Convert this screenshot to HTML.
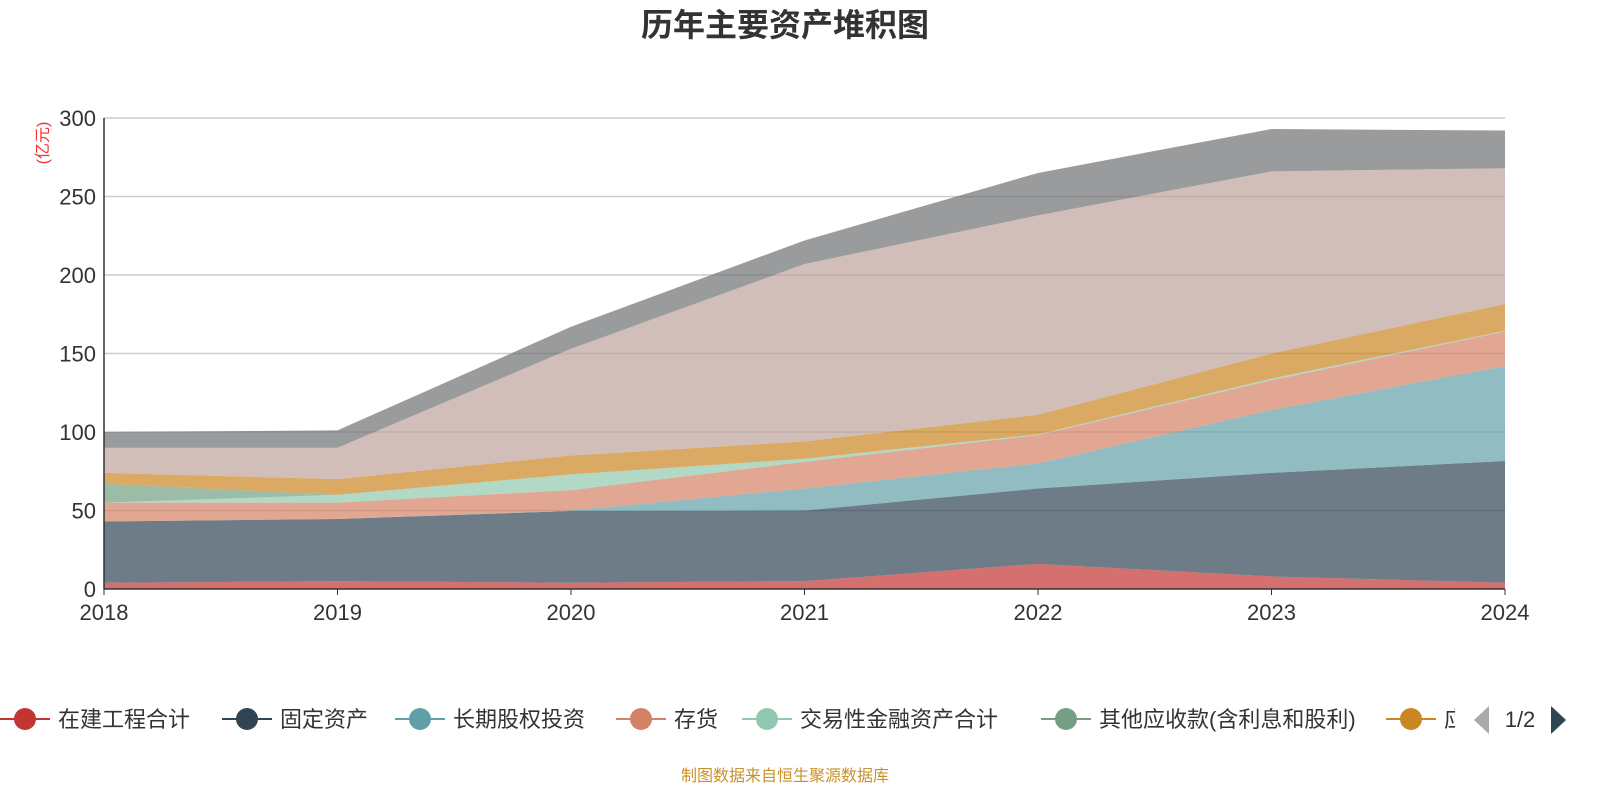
<!DOCTYPE html>
<html><head><meta charset="utf-8"><style>
body{margin:0;background:#fff;width:1600px;height:800px;overflow:hidden}
svg text{font-family:"Liberation Sans","Noto Sans CJK SC",sans-serif}
</style></head><body>
<svg id="c" width="1600" height="800" xmlns="http://www.w3.org/2000/svg">
<text x="785" y="36" text-anchor="middle" font-size="32" font-weight="bold" fill="#333">历年主要资产堆积图</text>
<text transform="translate(48,143) rotate(-90)" text-anchor="middle" font-size="16" fill="#e33">(亿元)</text>
<g id="grid"></g><g id="areas"></g><g id="axes"></g><g id="legend"></g>
<text x="785" y="781" text-anchor="middle" font-size="16" fill="#c8912a">制图数据来自恒生聚源数据库</text>
</svg>
<script>
const years=["2018","2019","2020","2021","2022","2023","2024"];
const yTicks=[0,50,100,150,200,250,300];
const names=["在建工程合计","固定资产","长期股权投资","存货","交易性金融资产合计","其他应收款(含利息和股利)","应收账款","货币资金","其他"];
const colors=["#c23531","#2f4554","#61a0a8","#d48265","#91c7ae","#749f83","#ca8622","#bda29a","#6e7074"];
const s0=[4,5,4,5,16,8,4];
const s1=[39,39.6,45.7,45,48,66,77.5];
const s2=[0,0,0.3,14,16,40,60.5];
const s3=[12,10.4,13,17,18,19,22];
const s4=[0,5,10,2,0.5,1,0.5];
const s5=[12,0,0,0,0,0,0];
const s6=[7,10,12,11,12.5,16,17];
const s7=[16,20,68,113,127,116,86.5];
const s8=[10,11,14,15,27,27,24];
const series=[s0,s1,s2,s3,s4,s5,s6,s7,s8];
const NS="http://www.w3.org/2000/svg";
const X0=104,X1=1505,Y0=589,Y1=118;
const xs=i=>X0+(X1-X0)*i/(years.length-1);
const ys=v=>Y0-(Y0-Y1)*v/300;
function mk(t,a,p){const e=document.createElementNS(NS,t);for(const k in a)e.setAttribute(k,a[k]);p.appendChild(e);return e;}
const grid=document.getElementById('grid'),areas=document.getElementById('areas'),axes=document.getElementById('axes'),leg=document.getElementById('legend');
yTicks.forEach(v=>{
 if(v>0){const l=mk('line',{x1:X0,x2:X1,y1:ys(v),y2:ys(v),stroke:'#ccc','stroke-width':1.5},grid);
 
 }
 const t=mk('text',{x:X0-8,y:ys(v)+8,'text-anchor':'end','font-size':22,fill:'#333'},axes);t.textContent=v;
 
 
});
let base=years.map(()=>0);
series.forEach((s,k)=>{
 const top=base.map((b,i)=>b+s[i]);
 let d='M'+years.map((_,i)=>xs(i)+','+ys(top[i])).join('L');
 for(let i=years.length-1;i>=0;i--)d+='L'+xs(i)+','+ys(base[i]);
 d+='Z';
 const p=mk('path',{d:d,fill:colors[k],'fill-opacity':0.7,stroke:'none'},areas);
 
 
 base=top;
});
const ax=mk('line',{x1:X0,x2:X1,y1:Y0,y2:Y0,stroke:'#333','stroke-width':1.5},axes);


const ay=mk('line',{x1:X0,x2:X0,y1:Y1,y2:Y0,stroke:'#333','stroke-width':1.5},axes);


years.forEach((y,i)=>{
 const tk=mk('line',{x1:xs(i),x2:xs(i),y1:Y0,y2:Y0+6,stroke:'#333'},axes);
 
 
 const t=mk('text',{x:xs(i),y:620,'text-anchor':'middle','font-size':22,fill:'#333'},axes);t.textContent=y;
 
 
});
const lx=[0,222,395,616,742,1041,1386];
const cp=mk('clipPath',{id:'lc'},leg);mk('rect',{x:0,y:690,width:1455,height:60},cp);
const lg=mk('g',{'clip-path':'url(#lc)'},leg);
lx.forEach((x,k)=>{
 const g=mk('g',{},lg);
 
 
 mk('line',{x1:x,x2:x+50,y1:719,y2:719,stroke:colors[k],'stroke-width':2},g);
 mk('circle',{cx:x+25,cy:719,r:11,fill:colors[k]},g);
 const t=mk('text',{x:x+58,y:727,'font-size':22,fill:'#333'},g);t.textContent=names[k];
});
const pl=mk('path',{d:'M1489,706L1489,734L1474,720Z',fill:'#aaa'},leg);


const pt=mk('text',{x:1520,y:727,'text-anchor':'middle','font-size':22,fill:'#333'},leg);pt.textContent='1/2';


const pn=mk('path',{d:'M1551,706L1551,734L1566,720Z',fill:'#2f4554'},leg);


</script>
</body></html>
